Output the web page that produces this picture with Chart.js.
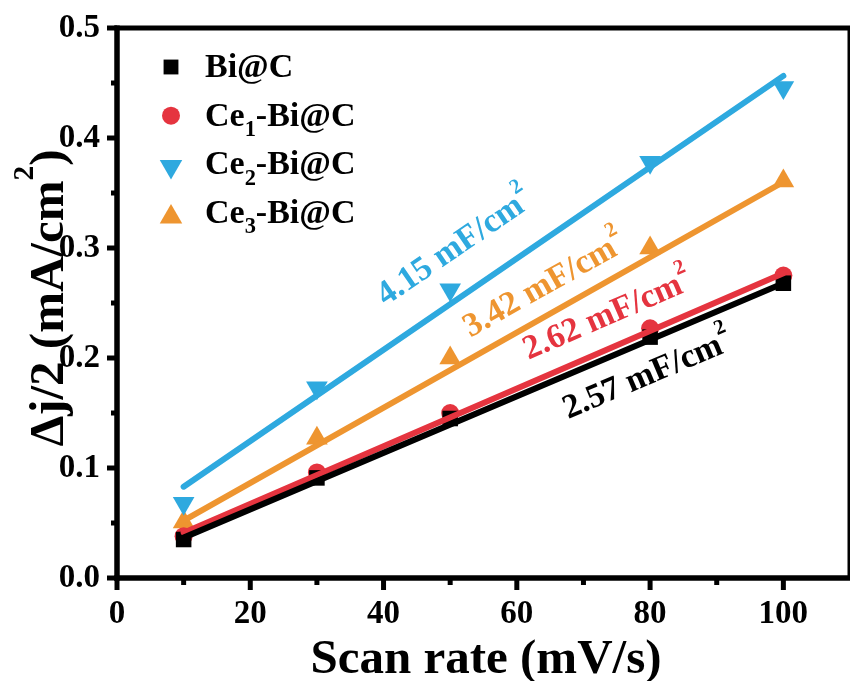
<!DOCTYPE html>
<html>
<head>
<meta charset="utf-8">
<script src="https://cdn.jsdelivr.net/npm/chart.js@4/dist/chart.umd.min.js"></script>
<style>
  html, body { margin: 0; padding: 0; background: #fff; }
  #wrap { width: 851px; height: 681px; position: relative; }
</style>
</head>
<body>
<div id="wrap"><canvas id="c" width="851" height="681"></canvas></div>
<script>
// ---- data ----
const scanRates = [10, 30, 50, 80, 100];               // mV/s
const seriesNames = ['Bi@C', 'Ce₁-Bi@C', 'Ce₂-Bi@C', 'Ce₃-Bi@C'];
const biC = [0.035, 0.091, 0.145, 0.219, 0.268];       // Δj/2, mA/cm²
const ce1 = [0.038, 0.096, 0.150, 0.227, 0.275];
const ce2 = [0.068, 0.173, 0.262, 0.378, 0.446];
const ce3 = [0.051, 0.127, 0.200, 0.300, 0.361];
// linear fits: slope (mA/cm² per mV/s; ×1000 gives mF/cm²) and intercept (mA/cm²)
const fitSlopes = [0.00257, 0.00262, 0.00415, 0.00342];
const fitIntercepts = [0.011, 0.015, 0.0415, 0.018];
const fitRange = [10, 100];
const xTicks = [0, 20, 40, 60, 80, 100];
const yTicks = [0.0, 0.1, 0.2, 0.3, 0.4, 0.5];
const xTitle = 'Scan rate (mV/s)';
const yTitle = 'Δj/2 (mA/cm²)';

// ---- styling ----
const seriesValues = [biC, ce1, ce2, ce3];
const colors = ['#000000', '#E5343F', '#2EA9DF', '#EE9530'];
const markers = [
  { style: 'rect', radius: 11, rotation: 0 },
  { style: 'circle', radius: 9, rotation: 0 },
  { style: 'triangle', radius: 12.5, rotation: 180 },
  { style: 'triangle', radius: 12.5, rotation: 0 }
];
const lineOrder = [1, 2, 4, 3];           // black fit drawn on top
// where each slope label sits: x in mV/s, vertical offset from its fit line in mA/cm²
const slopeLabelX = [79.5, 73.5, 50.5, 64.0];
const slopeLabelDy = [-0.029, 0.033, 0.051, 0.031];
const FONT = '"Liberation Serif", "Times New Roman", serif';

// ---- text with sub/superscripts ----
function parseRich(str) {
  const subs = '₀₁₂₃₄₅₆₇₈₉';
  const sups = { '²': '2', '³': '3' };
  const segs = [];
  for (const ch of str) {
    let type = 'n', c = ch;
    const i = subs.indexOf(ch);
    if (i >= 0) { type = 'sub'; c = String(i); }
    else if (sups[ch]) { type = 'sup'; c = sups[ch]; }
    const last = segs[segs.length - 1];
    if (last && last.type === type) last.text += c; else segs.push({ type, text: c });
  }
  return segs;
}
function richWidth(ctx, segs, size, small) {
  let w = 0;
  segs.forEach(s => {
    ctx.font = `bold ${s.type === 'n' ? size : small}px ${FONT}`;
    s.w = ctx.measureText(s.text).width;
    w += s.w;
  });
  return w;
}
// draws on the alphabetic baseline y
function drawRich(ctx, str, x, y, size, align, o) {
  const segs = parseRich(str);
  const small = size * o.scale;
  const w = richWidth(ctx, segs, size, small);
  let cx = align === 'center' ? x - w / 2 : x;
  ctx.textAlign = 'left';
  ctx.textBaseline = 'alphabetic';
  segs.forEach(s => {
    ctx.font = `bold ${s.type === 'n' ? size : small}px ${FONT}`;
    const dy = s.type === 'sub' ? size * o.sub : s.type === 'sup' ? -size * o.sup : 0;
    ctx.fillText(s.text, cx, y + dy);
    cx += s.w;
  });
}

function drawMarker(ctx, m, x, y, color) {
  ctx.save();
  ctx.fillStyle = color;
  ctx.translate(x, y);
  ctx.rotate(m.rotation * Math.PI / 180);
  ctx.beginPath();
  const r = m.radius;
  if (m.style === 'rect') {
    const s = Math.SQRT1_2 * r;
    ctx.rect(-s, -s, 2 * s, 2 * s);
  } else if (m.style === 'circle') {
    ctx.arc(0, 0, r, 0, Math.PI * 2);
  } else {
    for (let k = 0; k < 3; k++) {
      const a = k * 2 * Math.PI / 3;
      const px = Math.sin(a) * r, py = -Math.cos(a) * r;
      if (k === 0) ctx.moveTo(px, py); else ctx.lineTo(px, py);
    }
    ctx.closePath();
  }
  ctx.fill();
  ctx.restore();
}

// ---- datasets ----
const datasets = [];
seriesNames.forEach((name, i) => {
  datasets.push({
    type: 'scatter',
    label: name,
    data: scanRates.map((x, k) => ({ x, y: seriesValues[i][k] })),
    pointStyle: markers[i].style,
    pointRadius: markers[i].radius,
    pointRotation: markers[i].rotation,
    pointBackgroundColor: colors[i],
    pointBorderWidth: 0,
    pointHoverRadius: markers[i].radius,
    showLine: false,
    order: 10
  });
});
seriesNames.forEach((name, i) => {
  datasets.push({
    type: 'line',
    label: name + ' fit',
    data: fitRange.map(x => ({ x, y: fitIntercepts[i] + fitSlopes[i] * x })),
    borderColor: colors[i],
    borderWidth: 6,
    borderCapStyle: 'round',
    pointRadius: 0,
    pointHoverRadius: 0,
    fill: false,
    tension: 0,
    order: lineOrder[i]
  });
});

// ---- decorations: frame, ticks, titles, legend, slope labels ----
const decorations = {
  id: 'decorations',
  afterDatasetsDraw(chart) {
    const ctx = chart.ctx;
    const a = chart.chartArea;
    const xs = chart.scales.x, ys = chart.scales.y;
    ctx.save();

    // slope labels along each fit line
    seriesNames.forEach((name, i) => {
      const f = x => fitIntercepts[i] + fitSlopes[i] * x;
      const x1 = xs.getPixelForValue(fitRange[0]), y1 = ys.getPixelForValue(f(fitRange[0]));
      const x2 = xs.getPixelForValue(fitRange[1]), y2 = ys.getPixelForValue(f(fitRange[1]));
      const ang = Math.atan2(y2 - y1, x2 - x1);
      const lx = slopeLabelX[i];
      const px = xs.getPixelForValue(lx);
      const py = ys.getPixelForValue(f(lx) + slopeLabelDy[i]);
      const txt = (fitSlopes[i] * 1000).toFixed(2) + ' mF/cm²';
      const size = 34;
      ctx.save();
      ctx.translate(px, py);
      ctx.rotate(ang);
      ctx.fillStyle = colors[i];
      drawRich(ctx, txt, 0, size * 0.34, size, 'center', { scale: 0.62, sub: 0.25, sup: 0.55 });
      ctx.restore();
    });

    // frame
    ctx.strokeStyle = '#000';
    ctx.lineCap = 'butt';
    ctx.lineWidth = 5;
    ctx.beginPath(); ctx.moveTo(a.left - 2.5, a.top); ctx.lineTo(a.right, a.top); ctx.stroke();
    ctx.lineWidth = 2.5;
    ctx.beginPath(); ctx.moveTo(a.right - 1.25, a.top); ctx.lineTo(a.right - 1.25, a.bottom); ctx.stroke();
    ctx.lineWidth = 5.5;
    ctx.beginPath(); ctx.moveTo(a.left, a.top - 2.5); ctx.lineTo(a.left, a.bottom + 2.75); ctx.stroke();
    ctx.beginPath(); ctx.moveTo(a.left - 2.75, a.bottom); ctx.lineTo(a.right, a.bottom); ctx.stroke();

    // major and minor ticks (outward)
    ctx.lineWidth = 5;
    xTicks.forEach(v => {
      const p = xs.getPixelForValue(v);
      ctx.beginPath(); ctx.moveTo(p, a.bottom); ctx.lineTo(p, a.bottom + 12); ctx.stroke();
      const m = v + (xTicks[1] - xTicks[0]) / 2;
      if (m < xs.max) {
        const pm = xs.getPixelForValue(m);
        ctx.beginPath(); ctx.moveTo(pm, a.bottom); ctx.lineTo(pm, a.bottom + 7); ctx.stroke();
      }
    });
    yTicks.forEach(v => {
      const p = ys.getPixelForValue(v);
      ctx.beginPath(); ctx.moveTo(a.left, p); ctx.lineTo(a.left - 10, p); ctx.stroke();
      const m = v + (yTicks[1] - yTicks[0]) / 2;
      if (m < ys.max) {
        const pm = ys.getPixelForValue(m);
        ctx.beginPath(); ctx.moveTo(a.left, pm); ctx.lineTo(a.left - 6, pm); ctx.stroke();
      }
    });

    // axis titles
    ctx.fillStyle = '#000';
    drawRich(ctx, xTitle, 486, 673, 49, 'center', { scale: 0.6, sub: 0.25, sup: 0.6 });
    ctx.save();
    ctx.translate(63, 298);
    ctx.rotate(-Math.PI / 2);
    drawRich(ctx, yTitle, 0, 0, 49, 'center', { scale: 0.6, sub: 0.25, sup: 0.62 });
    ctx.restore();

    // legend
    const legX = 171, textX = 205, baseY = 77, rowH = 48.7;
    seriesNames.forEach((name, i) => {
      const by = baseY + i * rowH;
      const m = { ...markers[i] };
      let cy = by - 10;
      if (m.style === 'rect') m.radius = 10.5;
      if (m.style === 'triangle') { m.radius = 13; cy = m.rotation ? by - 8 : by - 6; }
      drawMarker(ctx, m, legX, cy, colors[i]);
      ctx.fillStyle = '#000';
      drawRich(ctx, name, textX, by, 34, 'left', { scale: 0.66, sub: 0.3, sup: 0.55 });
    });

    ctx.restore();
  }
};

const zeroPadding = s => { s.paddingLeft = 0; s.paddingRight = 0; s.paddingTop = 0; s.paddingBottom = 0; };

new Chart(document.getElementById('c'), {
  type: 'scatter',
  data: { datasets },
  options: {
    responsive: false,
    animation: false,
    events: [],
    layout: { autoPadding: false, padding: { top: 28, right: 1, left: 0, bottom: 0 } },
    plugins: { legend: { display: false }, tooltip: { enabled: false } },
    scales: {
      x: {
        type: 'linear', min: 0, max: 110,
        afterBuildTicks: s => { s.ticks = xTicks.map(v => ({ value: v })); },
        afterFit: s => { s.height = 103; zeroPadding(s); },
        grid: { display: true, drawOnChartArea: false, drawTicks: false },
        border: { display: false },
        ticks: {
          padding: 17, color: '#000',
          font: { family: FONT, size: 33, weight: 'bold' },
          callback: v => String(v)
        }
      },
      y: {
        type: 'linear', min: 0, max: 0.5,
        afterBuildTicks: s => { s.ticks = yTicks.map(v => ({ value: v })); },
        afterFit: s => { s.width = 117; zeroPadding(s); },
        grid: { display: true, drawOnChartArea: false, drawTicks: false },
        border: { display: false },
        ticks: {
          padding: 17, color: '#000',
          font: { family: FONT, size: 33, weight: 'bold' },
          callback: v => Number(v).toFixed(1)
        }
      }
    }
  },
  plugins: [decorations]
});
</script>
</body>
</html>
